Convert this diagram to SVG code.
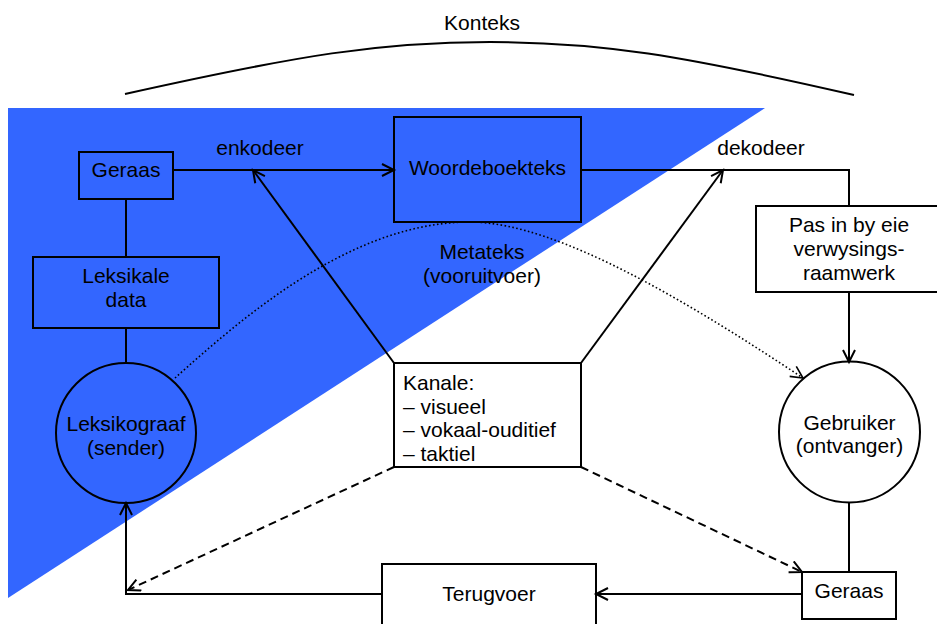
<svg xmlns="http://www.w3.org/2000/svg" width="937" height="624" viewBox="0 0 937 624">
<defs>
<style>
text{font-family:"Liberation Sans",Arial,sans-serif;font-size:21px;fill:#000}
.c{text-anchor:middle}
.box{fill:none;stroke:#000;stroke-width:2}
.ln{fill:none;stroke:#000;stroke-width:2}
.dash{fill:none;stroke:#000;stroke-width:2;stroke-dasharray:8,5}
.dot{fill:none;stroke:#000;stroke-width:1.6;stroke-dasharray:1.6,2.4}
</style>
<marker id="arr" markerUnits="userSpaceOnUse" markerWidth="16" markerHeight="16" refX="13" refY="7" orient="auto">
<path d="M1,1 L13,7 L1,13" fill="none" stroke="#000" stroke-width="2"/>
</marker>
<marker id="arrThin" markerUnits="userSpaceOnUse" markerWidth="16" markerHeight="16" refX="13" refY="7" orient="auto">
<path d="M1,1 L13,7 L1,13" fill="none" stroke="#000" stroke-width="1.6"/>
</marker>
</defs>
<rect width="937" height="624" fill="#fff"/>
<polygon points="8,108 765,108 8,598" fill="#3366FF"/>

<g id="konteks">
<path class="ln" d="M125,94 C300,55 380,42 490,42 C600,42 680,55 854,95"/>
<text class="c" x="482" y="30">Konteks</text>
</g>

<g id="connectors">
<line class="ln" x1="126" y1="199" x2="126" y2="257"/>
<line class="ln" x1="126" y1="328" x2="126" y2="363"/>
<line class="ln" x1="173" y1="170" x2="394" y2="170" marker-end="url(#arr)"/>
<line class="ln" x1="394" y1="363" x2="253" y2="170" marker-end="url(#arr)"/>
<polyline class="ln" points="581,170 849,170 849,206"/>
<line class="ln" x1="581" y1="363" x2="723" y2="170" marker-end="url(#arr)"/>
<line class="ln" x1="849" y1="292" x2="849" y2="362" marker-end="url(#arr)"/>
<line class="ln" x1="849" y1="503" x2="849" y2="572"/>
<line class="ln" x1="802" y1="594" x2="596" y2="594" marker-end="url(#arr)"/>
<polyline class="ln" points="382,594 126,594 126,503" marker-end="url(#arr)"/>
<line class="dash" x1="394" y1="467" x2="128" y2="590" marker-end="url(#arr)"/>
<line class="dash" x1="581" y1="467" x2="802" y2="572" marker-end="url(#arr)"/>
<path class="dot" d="M175,378 C240,320 350,222 470,222 C560,222 700,310 803,378" marker-end="url(#arrThin)"/>
<text class="c" x="260" y="155">enkodeer</text>
<text class="c" x="761" y="155">dekodeer</text>
<text class="c" x="482" y="259">Metateks</text>
<text class="c" x="482" y="283">(vooruitvoer)</text>
</g>

<g id="geraas-top">
<rect class="box" x="79" y="152" width="94" height="47"/>
<text class="c" x="126" y="177">Geraas</text>
</g>

<g id="leksikale-data">
<rect class="box" x="33" y="257" width="186" height="71"/>
<text class="c" x="126" y="283">Leksikale</text>
<text class="c" x="126" y="307">data</text>
</g>

<g id="leksikograaf">
<circle class="box" cx="126" cy="433" r="70"/>
<text class="c" x="126" y="431">Leksikograaf</text>
<text class="c" x="126" y="455">(sender)</text>
</g>

<g id="woordeboekteks">
<rect class="box" x="394" y="117" width="187" height="105"/>
<text class="c" x="487.5" y="175">Woordeboekteks</text>
</g>

<g id="pas-in">
<rect class="box" x="756" y="206" width="186" height="86"/>
<text class="c" x="849" y="232">Pas in by eie</text>
<text class="c" x="849" y="256">verwysings-</text>
<text class="c" x="849" y="280">raamwerk</text>
</g>

<g id="gebruiker">
<circle class="box" cx="849.5" cy="432" r="70.5"/>
<text class="c" x="849.5" y="430">Gebruiker</text>
<text class="c" x="849.5" y="453">(ontvanger)</text>
</g>

<g id="kanale">
<rect x="394" y="363" width="187" height="104" fill="#fff" stroke="#000" stroke-width="2"/>
<text x="403" y="390">Kanale:</text>
<text x="403" y="413.6">– visueel</text>
<text x="403" y="437.2">– vokaal-ouditief</text>
<text x="403" y="460.8">– taktiel</text>
</g>

<g id="terugvoer">
<rect class="box" x="382" y="564" width="214" height="64"/>
<text class="c" x="489" y="601">Terugvoer</text>
</g>

<g id="geraas-bottom">
<rect class="box" x="802" y="572" width="94" height="47"/>
<text class="c" x="849" y="598">Geraas</text>
</g>
</svg>
